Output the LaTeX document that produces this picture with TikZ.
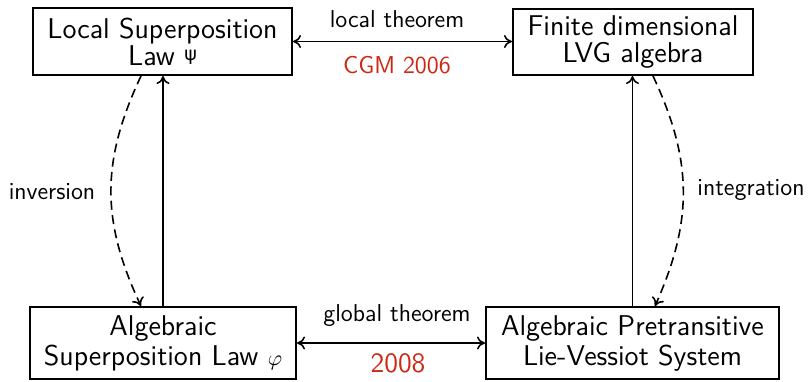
\documentclass[tikz,border=0pt]{standalone}
\usepackage{fontspec}
\newfontfamily\grk{DejaVu Sans}
\usetikzlibrary{arrows.meta,calc}
\definecolor{dred}{RGB}{205,40,20}
\begin{document}
\begin{tikzpicture}[x=0.5pt,y=-0.5pt,
  box/.style={draw,line width=1pt,align=center,inner sep=0pt},
  topbox/.style={box,font=\fontsize{14.3}{13.5}\selectfont\sffamily},
  botbox/.style={box,font=\fontsize{14.3}{15}\selectfont\sffamily},
  lbl/.style={font=\fontsize{12.2}{14}\selectfont\sffamily},
  conn/.style={line width=0.8pt,-{To[length=4pt,width=6.5pt]}},
  dconn/.style={line width=0.8pt,{To[length=4pt,width=6.5pt]}-{To[length=4pt,width=6.5pt]}},
  dashconn/.style={conn,dash pattern=on 4.5pt off 2.7pt}]
\useasboundingbox (0,0) rectangle (810,381);
\node[topbox,minimum width=129.5pt,minimum height=33.5pt] (A) at (162.5,41.5)
  {Local Superposition\\Law {\grk\fontsize{9.5}{9.5}\selectfont\raisebox{0.22em}{ψ}}};
\node[topbox,minimum width=120pt,minimum height=33pt] (B) at (633,42)
  {Finite dimensional\\LVG algebra};
\node[botbox,minimum width=133pt,minimum height=36pt] (C) at (163,343)
  {Algebraic\\Superposition Law {\fontsize{11}{11}\selectfont$\varphi$}};
\node[botbox,minimum width=146.5pt,minimum height=36pt] (D) at (632.5,343)
  {Algebraic Pretransitive\\Lie-Vessiot System};
\node[lbl] (lt) at (397,19) {local theorem};
\node[lbl,text=dred] (cgm) at (397,65) {CGM 2006};
\node[lbl] (gt) at (397,316) {global theorem};
\node[lbl,text=dred,font=\fontsize{14}{16}\selectfont\sffamily] (y08) at (398,363) {2008};
\node[lbl] (inv) at (52,192) {inversion};
\node[lbl] (intg) at (751,190) {integration};
\draw[dconn] (A.east) -- (A.east -| B.west);
\draw[dconn] (C.east) -- (C.east -| D.west);
\draw[conn] (C.north) -- (C.north |- A.south);
\draw[conn] (D.north) -- (D.north |- B.south);
\draw[dashconn] ($(A.south)+(-21.5,0)$) .. controls ($(A.south)+(-61.5,85)$) and ($(C.north)+(-62,-85)$) .. ($(C.north)+(-22,0)$);
\draw[dashconn] ($(B.south)+(20,0)$) .. controls ($(B.south)+(60,85)$) and ($(D.north)+(60.5,-85)$) .. ($(D.north)+(22.5,0)$);
\end{tikzpicture}
\end{document}
